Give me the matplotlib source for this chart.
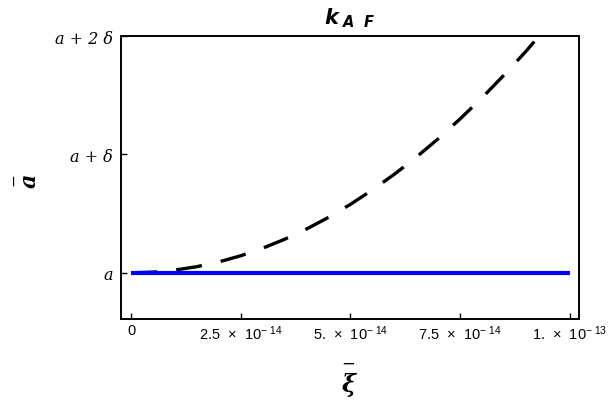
import matplotlib
matplotlib.use("Agg")
import matplotlib.pyplot as plt

# ---- data ----
xi_curve = [0.0, 0.05e-13, 0.10e-13, 0.15e-13, 0.20e-13, 0.25e-13, 0.30e-13, 0.35e-13,
            0.40e-13, 0.45e-13, 0.50e-13, 0.55e-13, 0.60e-13, 0.65e-13, 0.70e-13,
            0.75e-13, 0.80e-13, 0.85e-13, 0.90e-13, 0.93e-13]
a_curve = [0.0, 0.006, 0.023, 0.052, 0.092, 0.144, 0.208, 0.283, 0.37, 0.468, 0.578,
           0.70, 0.832, 0.976, 1.132, 1.30, 1.478, 1.67, 1.87, 2.0]   # in units of delta above a
xi_flat = [0.0, 1.0e-13]
a_flat = [0.0, 0.0]

xticks = [0.0, 2.5e-14, 5.0e-14, 7.5e-14, 1.0e-13]
xtick_labels = ["0", r"2.5  ×  10$^{-\ 14}$", r"5.  ×  10$^{-\ 14}$",
                r"7.5  ×  10$^{-\ 14}$", r"1.  ×  10$^{-\ 13}$"]
yticks = [0.0, 1.0, 2.0]
ytick_labels = ["a", "a + δ", "a + 2 δ"]

plt.rcParams["font.family"] = ["Liberation Sans", "DejaVu Sans"]
plt.rcParams["mathtext.fontset"] = "custom"
plt.rcParams["mathtext.rm"] = "Liberation Sans"
plt.rcParams["mathtext.it"] = "Liberation Sans:italic"
plt.rcParams["mathtext.bf"] = "Liberation Sans:bold"

fig = plt.figure(figsize=(6.13, 4.02), dpi=100)
ax = fig.add_axes([121 / 613, 1 - 320 / 402, (579 - 121) / 613, (320 - 37) / 402])

ax.plot(xi_flat, a_flat, color="#0000ff", lw=3.0, solid_capstyle="butt", zorder=3)
ax.plot(xi_curve, a_curve, color="black", lw=2.4, dashes=(7.8, 5.8),
        dash_capstyle="butt", zorder=2)

ax.set_xlim(-0.228e-14, 1.021e-13)
ax.set_ylim(-0.39, 2.0)

ax.set_xticks(xticks, xtick_labels, family=["Liberation Sans", "DejaVu Sans"], fontsize=10.5)
ax.set_yticks(yticks, ytick_labels, family=["DejaVu Serif"], fontstyle="italic", fontsize=11.5)
ax.minorticks_off()

ax.tick_params(axis="both", direction="in", length=4, width=1.0, color="black")
ax.tick_params(axis="x", pad=3)
ax.tick_params(axis="y", pad=6)

for sp in ax.spines.values():
    sp.set_linewidth(1.4)

ax.set_title(r"$\mathbfit{k}_{\ \mathbfit{A}\ \ \mathbfit{F}}$", fontsize=15, pad=9,
             math_fontfamily="dejavusans")
ax.set_xlabel(r"$\overset{-}{\mathbfit{\xi}}$", fontsize=17, math_fontfamily="dejavuserif")
ax.xaxis.set_label_coords(0.5, -0.145)
ax.set_ylabel(r"$\overset{-}{\mathbfit{a}}$", fontsize=16, rotation=90,
              math_fontfamily="dejavuserif")
ax.yaxis.set_label_coords(-0.174, 0.49)

fig.savefig("out.png", dpi=100)
